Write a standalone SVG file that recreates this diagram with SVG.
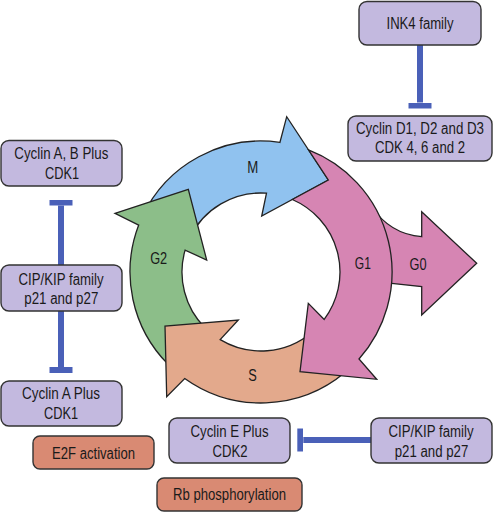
<svg xmlns="http://www.w3.org/2000/svg" width="493" height="512" viewBox="0 0 493 512">
<style>
.box{fill:#c3b9df;stroke:#333;stroke-width:1.4}
.act{fill:#d98a73;stroke:#333;stroke-width:1.4}
.t{font-family:"Liberation Sans Narrow","Liberation Sans",Arial,sans-serif;font-size:16px;fill:#1a1a1a;text-anchor:middle}
.arr{stroke:#222;stroke-width:1.3;stroke-linejoin:miter}
.inh{stroke:#4a60b8;stroke-width:6;fill:none;marker-end:url(#tbar)}
</style>
<defs>
<marker id="tbar" viewBox="0 -12 6 24" refX="0" refY="0" markerWidth="6" markerHeight="24" markerUnits="userSpaceOnUse" orient="auto">
<path d="M0,-11.5H6V11.5H0Z" fill="#4a60b8"/>
</marker>
</defs>
<rect width="493" height="512" fill="#fff"/>
<g id="cycle">
<g id="g0">
<path class="arr" fill="#d685b3" d="M360,215 L372,207 Q390,234 421.7,236.7 L421.7,211.7 L476.7,263.3 L421.7,315 L421.7,286.7 L391.7,283.3 L372,283 Z"/>
<text class="t" x="418" y="270" textLength="17" lengthAdjust="spacingAndGlyphs">G0</text>
</g>
<g id="m">
<path class="arr" fill="#90c2ef" d="M142.3,216.6 A131,131 0 0 1 279.9,142.4 L286.7,116.7 L328.3,180 L261.7,216 L266.5,193.2 A79,79 0 0 0 189.4,238.6 Z"/>
<text class="t" x="252.8" y="173.3" textLength="11" lengthAdjust="spacingAndGlyphs">M</text>
</g>
<g id="g2">
<path class="arr" fill="#8cbe89" d="M168.4,364.6 A131,131 0 0 1 138.7,225.1 L115,213.3 L188.3,189.3 L206.7,260 L185.1,250.1 A79,79 0 0 0 205.1,327.9 Z"/>
<text class="t" x="158.7" y="264" textLength="17" lengthAdjust="spacingAndGlyphs">G2</text>
</g>
<g id="s">
<path class="arr" fill="#e3a98c" d="M345.2,372.3 A131,131 0 0 1 184.7,378.5 L166.7,396.7 L165,326 L238.3,320 L220.2,339.6 A79,79 0 0 0 311.8,332.5 Z"/>
<text class="t" x="252.5" y="380.7" textLength="8.5" lengthAdjust="spacingAndGlyphs">S</text>
</g>
<g id="g1">
<path class="arr" fill="#d685b3" d="M292.3,199.5 L328.3,180 L308.5,149.9 A131,131 0 0 1 359,359 L376.7,379.3 L300,371.7 L308.3,303.3 L324.2,319.4 A79,79 0 0 0 292.3,199.5 Z"/>
<text class="t" x="362.8" y="268.7" textLength="16" lengthAdjust="spacingAndGlyphs">G1</text>
</g>
</g>
<g id="connectors">
<line class="inh" x1="420" y1="45" x2="420" y2="102.5"/>
<line class="inh" x1="61" y1="265" x2="61" y2="205.5"/>
<line class="inh" x1="61" y1="311" x2="61" y2="367"/>
<line class="inh" x1="371" y1="440" x2="303.3" y2="440"/>
</g>
<g id="ink4">
<rect class="box" x="359" y="1.5" width="122" height="43.5" rx="8"/>
<text class="t" x="420" y="28.5" textLength="67" lengthAdjust="spacingAndGlyphs">INK4 family</text>
</g>
<g id="cyclinD">
<rect class="box" x="348" y="116" width="144" height="45" rx="8"/>
<text class="t" x="420" y="133.5" textLength="128" lengthAdjust="spacingAndGlyphs">Cyclin D1, D2 and D3</text>
<text class="t" x="420" y="152.7" textLength="90" lengthAdjust="spacingAndGlyphs">CDK 4, 6 and 2</text>
</g>
<g id="cyclinAB">
<rect class="box" x="1" y="140.5" width="121" height="45.5" rx="8"/>
<text class="t" x="61.3" y="159.3" textLength="94" lengthAdjust="spacingAndGlyphs">Cyclin A, B Plus</text>
<text class="t" x="62" y="179" textLength="34" lengthAdjust="spacingAndGlyphs">CDK1</text>
</g>
<g id="cipLeft">
<rect class="box" x="1" y="265" width="121" height="46" rx="8"/>
<text class="t" x="61" y="285" textLength="85" lengthAdjust="spacingAndGlyphs">CIP/KIP family</text>
<text class="t" x="61.3" y="304" textLength="74" lengthAdjust="spacingAndGlyphs">p21 and p27</text>
</g>
<g id="cyclinA">
<rect class="box" x="1" y="381" width="121" height="45" rx="8"/>
<text class="t" x="61" y="399" textLength="78" lengthAdjust="spacingAndGlyphs">Cyclin A Plus</text>
<text class="t" x="61" y="419" textLength="34" lengthAdjust="spacingAndGlyphs">CDK1</text>
</g>
<g id="e2f">
<rect class="act" x="33" y="436" width="121" height="33" rx="7"/>
<text class="t" x="93.5" y="458.5" textLength="83" lengthAdjust="spacingAndGlyphs">E2F activation</text>
</g>
<g id="cyclinE">
<rect class="box" x="169" y="418" width="121" height="45" rx="8"/>
<text class="t" x="229.5" y="436.7" textLength="78" lengthAdjust="spacingAndGlyphs">Cyclin E Plus</text>
<text class="t" x="230" y="456.7" textLength="35" lengthAdjust="spacingAndGlyphs">CDK2</text>
</g>
<g id="cipRight">
<rect class="box" x="371" y="418" width="121" height="45" rx="8"/>
<text class="t" x="431" y="436.7" textLength="85" lengthAdjust="spacingAndGlyphs">CIP/KIP family</text>
<text class="t" x="431.5" y="456.5" textLength="73.5" lengthAdjust="spacingAndGlyphs">p21 and p27</text>
</g>
<g id="rb">
<rect class="act" x="157" y="478" width="145" height="33" rx="7"/>
<text class="t" x="229.5" y="500" textLength="113" lengthAdjust="spacingAndGlyphs">Rb phosphorylation</text>
</g>
</svg>
